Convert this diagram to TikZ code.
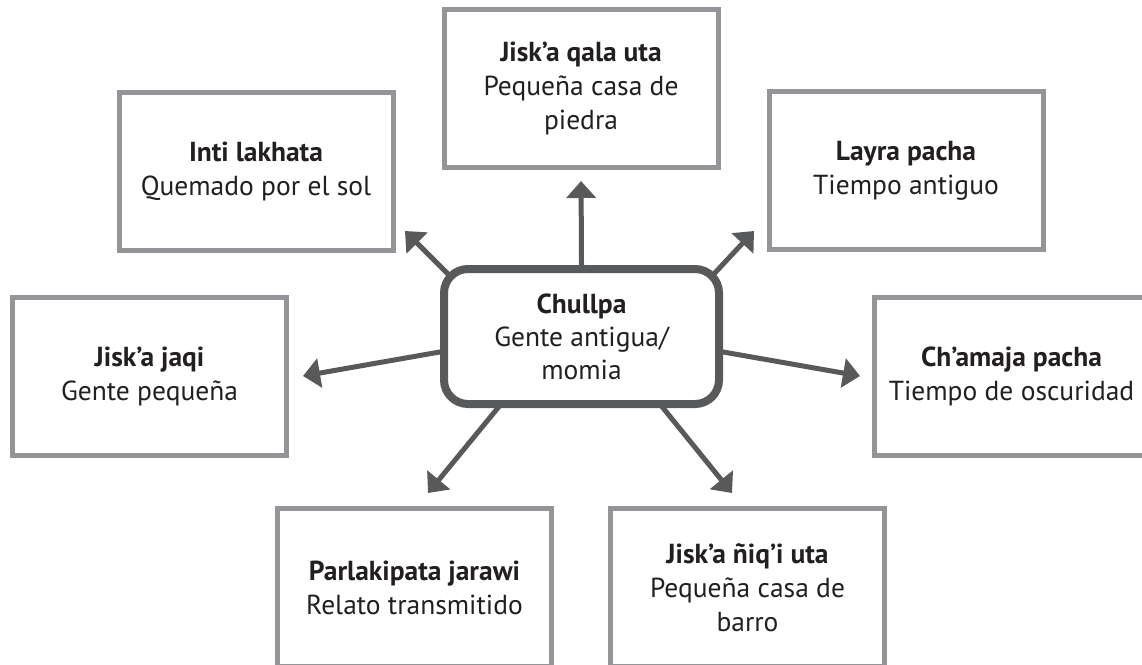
\documentclass[tikz,border=0pt]{standalone}
\usepackage{fontspec}
\setmainfont{PT Sans}
\usetikzlibrary{arrows.meta,calc}
\definecolor{boxgray}{HTML}{939598}
\definecolor{darkgray}{HTML}{58595B}
\definecolor{txt}{HTML}{231F20}
\pgfdeclarelayer{bg}
\pgfsetlayers{bg,main}
\tikzset{
  leaf/.style={draw=boxgray, line width=5pt, fill=white, minimum width=274pt, minimum height=158pt,
    inner sep=0pt, align=center, text=txt, font=\fontsize{27.5}{34}\selectfont},
  hub/.style={draw=darkgray, line width=8pt, fill=white, rounded corners=24pt, minimum width=275pt,
    minimum height=135pt, inner sep=0pt, align=center, text=txt, font=\fontsize{27.5}{33}\selectfont},
  arr/.style={draw=darkgray, line width=5pt, -{Triangle[length=17pt,width=29pt]}}
}
\begin{document}
\begin{tikzpicture}[x=1pt,y=-1pt]
\useasboundingbox (0,0) rectangle (1142,664);
\clip (0,0) rectangle (1142,664);
\node[hub] (c) at (581.5,336.5) {\textbf{Chullpa}\\Gente antigua/\\momia};
\node[leaf] (top) at (581,88.5) {\textbf{Jisk’a qala uta}\\Pequeña casa de\\piedra};
\node[leaf] (inti) at (256,171) {\textbf{Inti lakhata}\\Quemado por el sol};
\node[leaf] (layra) at (906,170.5) {\textbf{Layra pacha}\\Tiempo antiguo};
\node[leaf] (jaqi) at (149.5,376.5) {\textbf{Jisk’a jaqi}\\Gente pequeña};
\node[leaf] (chamaja) at (1011.5,376.5) {\textbf{Ch’amaja pacha}\\Tiempo de oscuridad};
\node[leaf] (parla) at (414.5,587.5) {\textbf{Parlakipata jarawi}\\Relato transmitido};
\node[leaf] (niqi) at (747.5,587.5) {\textbf{Jisk’a ñiq’i uta}\\Pequeña casa de\\barro};
\coordinate (tinti) at (405,231);
\coordinate (tlayra) at (754,231);
\coordinate (tjaqi) at (303,376);
\coordinate (tcham) at (860,376);
\coordinate (tparla) at (428,493);
\coordinate (tniqi) at (732,493);
\begin{pgfonlayer}{bg}
\draw[arr, shorten >=11pt] (c.north) -- (top.south);
\draw[arr] ($(c.north west)+(25,26)$) -- (tinti);
\draw[arr] ($(c.north east)+(-25,26)$) -- (tlayra);
\draw[arr] ($(c.west)+(10,13.7)$) -- (tjaqi);
\draw[arr] ($(c.east)+(-10,13.7)$) -- (tcham);
\draw[arr] ($(c.south west)+(66,-10)$) -- (tparla);
\draw[arr] ($(c.south east)+(-68,-10)$) -- (tniqi);
\end{pgfonlayer}
\end{tikzpicture}
\end{document}
